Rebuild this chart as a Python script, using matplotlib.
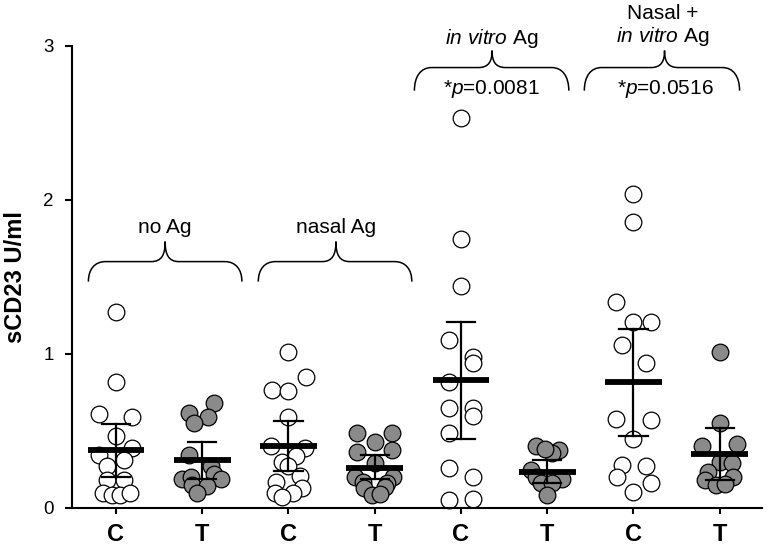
import matplotlib
matplotlib.use("Agg")
import matplotlib.pyplot as plt
from matplotlib.path import Path
from matplotlib.patches import PathPatch

plt.rcParams['font.family'] = ['Liberation Sans', 'DejaVu Sans']
plt.rcParams['mathtext.fontset'] = 'custom'
plt.rcParams['mathtext.rm'] = 'Liberation Sans'
plt.rcParams['mathtext.it'] = 'Liberation Sans:italic'

# ---- data ----
categories = ['C', 'T', 'C', 'T', 'C', 'T', 'C', 'T']
is_treated = [False, True, False, True, False, True, False, True]

g1c_vals = [1.27, 0.816, 0.61, 0.593, 0.47, 0.39, 0.344, 0.31, 0.275, 0.18, 0.18, 0.10, 0.084, 0.084, 0.10]
g1c_off = [0, 0, -0.2, 0.19, 0, 0.19, -0.2, 0.09, -0.1, -0.1, 0.09, -0.15, -0.05, 0.05, 0.16]
g1t_vals = [0.68, 0.617, 0.59, 0.55, 0.344, 0.27, 0.22, 0.19, 0.19, 0.20, 0.15, 0.14, 0.10]
g1t_off = [0.14, -0.15, 0.07, -0.09, -0.15, 0.1, 0.14, -0.23, 0.22, -0.13, -0.12, 0.05, -0.06]
g2c_vals = [1.01, 0.85, 0.766, 0.76, 0.59, 0.40, 0.39, 0.34, 0.30, 0.27, 0.21, 0.17, 0.13, 0.10, 0.10, 0.07]
g2c_off = [0, 0.2, -0.19, 0, 0, -0.2, 0.19, 0.09, -0.08, -0.01, 0.13, -0.14, 0.16, -0.16, 0.05, -0.07]
g2t_vals = [0.485, 0.485, 0.43, 0.365, 0.375, 0.29, 0.20, 0.20, 0.17, 0.16, 0.13, 0.135, 0.085, 0.09]
g2t_off = [-0.2, 0.2, 0, -0.2, 0.2, 0, -0.23, 0.21, -0.14, 0.14, -0.12, 0.12, -0.03, 0.06]
g3c_vals = [2.53, 1.745, 1.44, 1.09, 0.98, 0.94, 0.82, 0.647, 0.647, 0.60, 0.485, 0.258, 0.20, 0.05, 0.06]
g3c_off = [0, 0, 0, -0.14, 0.14, 0.14, -0.14, -0.14, 0.14, 0.14, -0.14, -0.14, 0.14, -0.14, 0.14]
g3t_vals = [0.40, 0.375, 0.355, 0.38, 0.25, 0.20, 0.19, 0.16, 0.16, 0.085]
g3t_off = [-0.13, 0.14, 0.06, -0.03, -0.19, -0.13, 0.17, -0.07, 0.06, 0]
g4c_vals = [2.04, 1.86, 1.34, 1.21, 1.21, 1.06, 0.94, 0.58, 0.57, 0.45, 0.28, 0.27, 0.20, 0.165, 0.106]
g4c_off = [0, 0, -0.2, 0, 0.2, -0.13, 0.15, -0.2, 0.2, 0, -0.13, 0.14, -0.19, 0.2, 0]
g4t_vals = [1.01, 0.55, 0.40, 0.415, 0.30, 0.29, 0.236, 0.20, 0.18, 0.15, 0.155]
g4t_off = [0, 0, -0.2, 0.2, 0, 0.14, -0.14, 0.15, -0.17, -0.04, 0.06]

means = [0.376, 0.31, 0.40, 0.26, 0.83, 0.236, 0.82, 0.35]
err_hi = [0.545, 0.43, 0.565, 0.345, 1.21, 0.31, 1.16, 0.52]
err_lo = [0.20, 0.19, 0.24, 0.19, 0.45, 0.16, 0.47, 0.18]

group_labels = ['no Ag', 'nasal Ag', r'$\mathit{in\ vitro}$ Ag', 'Nasal +\n' + r'$\mathit{in\ vitro}$ Ag']
p_labels = [None, None, r'*$\mathit{p}$=0.0081', r'*$\mathit{p}$=0.0516']

all_vals = [g1c_vals, g1t_vals, g2c_vals, g2t_vals, g3c_vals, g3t_vals, g4c_vals, g4t_vals]
all_off = [g1c_off, g1t_off, g2c_off, g2t_off, g3c_off, g3t_off, g4c_off, g4t_off]

# ---- figure ----
fig = plt.figure(figsize=(7.68, 5.47), dpi=100)
ax = fig.add_axes([72/768, 1-508/547, 690/768, 462/547])

for i, (vals, offs) in enumerate(zip(all_vals, all_off)):
    xs = [i + o for o in offs]
    fc = '#8a8a8a' if is_treated[i] else 'white'
    ax.plot(xs, vals, 'o', ms=12, mfc=fc, mec='black', mew=0.9, ls='none',
            zorder=2, clip_on=False)

for i in range(len(means)):
    ax.plot([i, i], [err_lo[i], err_hi[i]], color='black', lw=1.6, zorder=3)
    for v in (err_lo[i], err_hi[i]):
        ax.plot([i-0.165, i+0.165], [v, v], color='black', lw=1.6, zorder=3)
    ax.plot([i-0.33, i+0.33], [means[i], means[i]], color='black', lw=4.2,
            solid_capstyle='butt', zorder=4)


def brace(x0, x1, xc, yb, yh, yt, rx=0.2, rt=0.16):
    verts = [
        (x0, yb),
        (x0, yb + (yh-yb)*0.6), (x0 + rx*0.35, yh), (x0 + rx, yh),
        (xc - rt, yh),
        (xc - rt*0.25, yh), (xc, yh + (yt-yh)*0.35), (xc, yt),
        (xc, yh + (yt-yh)*0.35), (xc + rt*0.25, yh), (xc + rt, yh),
        (x1 - rx, yh),
        (x1 - rx*0.35, yh), (x1, yb + (yh-yb)*0.6), (x1, yb),
    ]
    codes = [Path.MOVETO,
             Path.CURVE4, Path.CURVE4, Path.CURVE4,
             Path.LINETO,
             Path.CURVE4, Path.CURVE4, Path.CURVE4,
             Path.CURVE4, Path.CURVE4, Path.CURVE4,
             Path.LINETO,
             Path.CURVE4, Path.CURVE4, Path.CURVE4]
    ax.add_patch(PathPatch(Path(verts, codes), fc='none', ec='black', lw=1.1,
                           clip_on=False))

brace(-0.32, 1.46, 0.57, 1.47, 1.60, 1.73)
brace(1.65, 3.43, 2.55, 1.47, 1.60, 1.73)
brace(3.46, 5.25, 4.36, 2.71, 2.86, 2.97)
brace(5.43, 7.23, 6.36, 2.71, 2.86, 2.97)

fs = 15
ax.text(0.57, 1.82, group_labels[0], ha='center', va='center', fontsize=fs)
ax.text(2.55, 1.82, group_labels[1], ha='center', va='center', fontsize=fs)
ax.text(4.36, 3.05, group_labels[2], ha='center', va='center', fontsize=fs, clip_on=False)
ax.text(6.34, 3.13, group_labels[3], ha='center', va='center', fontsize=fs,
        linespacing=1.1, clip_on=False)
ax.text(4.35, 2.72, p_labels[2], ha='center', va='center', fontsize=fs)
ax.text(6.37, 2.72, p_labels[3], ha='center', va='center', fontsize=fs)

ax.set_xlim(-0.51, 7.49)
ax.set_ylim(0, 3)
ax.set_xticks(range(len(categories)))
ax.set_xticklabels(categories, fontsize=17, fontweight='bold')
ax.set_yticks([0, 1, 2, 3])
ax.set_yticklabels(['0', '1', '2', '3'], fontsize=13.5)
ax.tick_params(axis='y', length=5, width=1.5, pad=8)
ax.tick_params(axis='x', length=4, width=1.5, pad=7)
for s in ('top', 'right'):
    ax.spines[s].set_visible(False)
for s in ('left', 'bottom'):
    ax.spines[s].set_linewidth(1.5)
ax.spines['left'].set_bounds(0, 3)
ax.set_ylabel('sCD23 U/ml', fontsize=17, fontweight='bold', labelpad=12)

fig.savefig('out.png', dpi=100)
